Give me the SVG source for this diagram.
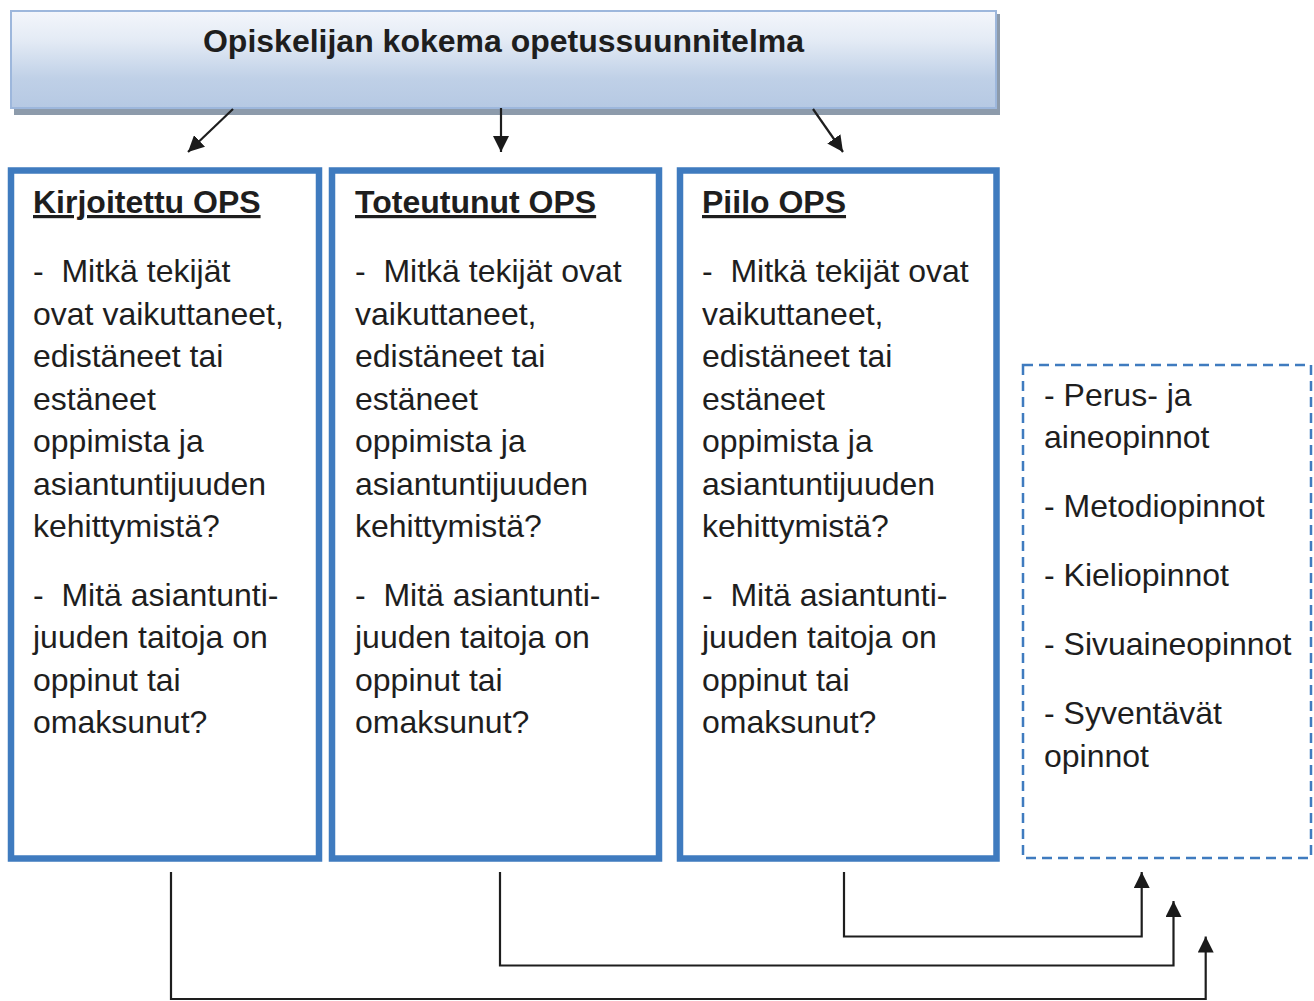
<svg xmlns="http://www.w3.org/2000/svg" width="1314" height="1001" viewBox="0 0 1314 1001">
  <defs>
    <linearGradient id="hdrGrad" x1="0" y1="0" x2="0" y2="1">
      <stop offset="0" stop-color="#f3f6fb"/>
      <stop offset="0.3" stop-color="#e4ebf5"/>
      <stop offset="0.7" stop-color="#bfd0e7"/>
      <stop offset="1" stop-color="#b6c9e3"/>
    </linearGradient>
    <marker id="arrow" viewBox="0 0 16 16" refX="16" refY="8" markerWidth="16" markerHeight="16" markerUnits="userSpaceOnUse" orient="auto">
      <path d="M0,0 L16,8 L0,16 Z" fill="#1a1a1a"/>
    </marker>
  </defs>
  <style>
    text { font-family: "Liberation Sans", Arial, sans-serif; fill: #1e1e1e; white-space: pre; }
    .hdr { font-size: 32px; font-weight: bold; }
    .title { font-size: 32px; font-weight: bold; text-decoration: underline; }
    .body { font-size: 32px; }
    .col { fill: #ffffff; stroke: #3f7bbf; stroke-width: 6.5; }
    .dash { fill: #ffffff; stroke: #3f7bbf; stroke-width: 2.5; stroke-dasharray: 10 6; }
    .conn { fill: none; stroke: #1e1e1e; stroke-width: 2.2; }
  </style>

  <rect width="1314" height="1001" fill="#ffffff"/>

  <g id="header">
    <rect x="14" y="14" width="986" height="101" fill="#8d9bab"/>
    <rect x="11" y="11" width="985" height="97" fill="url(#hdrGrad)" stroke="#9db7dc" stroke-width="2"/>
    <text class="hdr" x="503.5" y="52" text-anchor="middle">Opiskelijan kokema opetussuunnitelma</text>
  </g>

  <g id="kirjoitettu">
    <rect class="col" x="11" y="170.5" width="308" height="688"/>
    <text class="title" x="33" y="213">Kirjoitettu OPS</text>
    <text class="body" x="33" y="282">-  Mitkä tekijät</text>
    <text class="body" x="33" y="324.5">ovat vaikuttaneet,</text>
    <text class="body" x="33" y="367">edistäneet tai</text>
    <text class="body" x="33" y="409.5">estäneet</text>
    <text class="body" x="33" y="452">oppimista ja</text>
    <text class="body" x="33" y="494.5">asiantuntijuuden</text>
    <text class="body" x="33" y="537">kehittymistä?</text>
    <text class="body" x="33" y="605.5">-  Mitä asiantunti-</text>
    <text class="body" x="33" y="648">juuden taitoja on</text>
    <text class="body" x="33" y="690.5">oppinut tai</text>
    <text class="body" x="33" y="733">omaksunut?</text>
  </g>

  <g id="toteutunut">
    <rect class="col" x="332" y="170.5" width="327" height="688"/>
    <text class="title" x="355" y="213">Toteutunut OPS</text>
    <text class="body" x="355" y="282">-  Mitkä tekijät ovat</text>
    <text class="body" x="355" y="324.5">vaikuttaneet,</text>
    <text class="body" x="355" y="367">edistäneet tai</text>
    <text class="body" x="355" y="409.5">estäneet</text>
    <text class="body" x="355" y="452">oppimista ja</text>
    <text class="body" x="355" y="494.5">asiantuntijuuden</text>
    <text class="body" x="355" y="537">kehittymistä?</text>
    <text class="body" x="355" y="605.5">-  Mitä asiantunti-</text>
    <text class="body" x="355" y="648">juuden taitoja on</text>
    <text class="body" x="355" y="690.5">oppinut tai</text>
    <text class="body" x="355" y="733">omaksunut?</text>
  </g>

  <g id="piilo">
    <rect class="col" x="680" y="170.5" width="316.5" height="688"/>
    <text class="title" x="702" y="213">Piilo OPS</text>
    <text class="body" x="702" y="282">-  Mitkä tekijät ovat</text>
    <text class="body" x="702" y="324.5">vaikuttaneet,</text>
    <text class="body" x="702" y="367">edistäneet tai</text>
    <text class="body" x="702" y="409.5">estäneet</text>
    <text class="body" x="702" y="452">oppimista ja</text>
    <text class="body" x="702" y="494.5">asiantuntijuuden</text>
    <text class="body" x="702" y="537">kehittymistä?</text>
    <text class="body" x="702" y="605.5">-  Mitä asiantunti-</text>
    <text class="body" x="702" y="648">juuden taitoja on</text>
    <text class="body" x="702" y="690.5">oppinut tai</text>
    <text class="body" x="702" y="733">omaksunut?</text>
  </g>

  <g id="opinnot">
    <rect class="dash" x="1023" y="365" width="288" height="493"/>
    <text class="body" x="1044" y="405.5">- Perus- ja</text>
    <text class="body" x="1044" y="448">aineopinnot</text>
    <text class="body" x="1044" y="517">- Metodiopinnot</text>
    <text class="body" x="1044" y="586">- Kieliopinnot</text>
    <text class="body" x="1044" y="655">- Sivuaineopinnot</text>
    <text class="body" x="1044" y="724">- Syventävät</text>
    <text class="body" x="1044" y="766.5">opinnot</text>
  </g>

  <g id="connectors">
    <line class="conn" x1="233" y1="109" x2="188" y2="152" marker-end="url(#arrow)"/>
    <line class="conn" x1="501" y1="108" x2="501" y2="152" marker-end="url(#arrow)"/>
    <line class="conn" x1="813" y1="109" x2="843" y2="152" marker-end="url(#arrow)"/>
    <polyline class="conn" points="844,872 844,936.5 1141.7,936.5 1141.7,872" marker-end="url(#arrow)"/>
    <polyline class="conn" points="500,872 500,965.5 1173.5,965.5 1173.5,901" marker-end="url(#arrow)"/>
    <polyline class="conn" points="171,872 171,999 1205.7,999 1205.7,936.5" marker-end="url(#arrow)"/>
  </g>
</svg>
